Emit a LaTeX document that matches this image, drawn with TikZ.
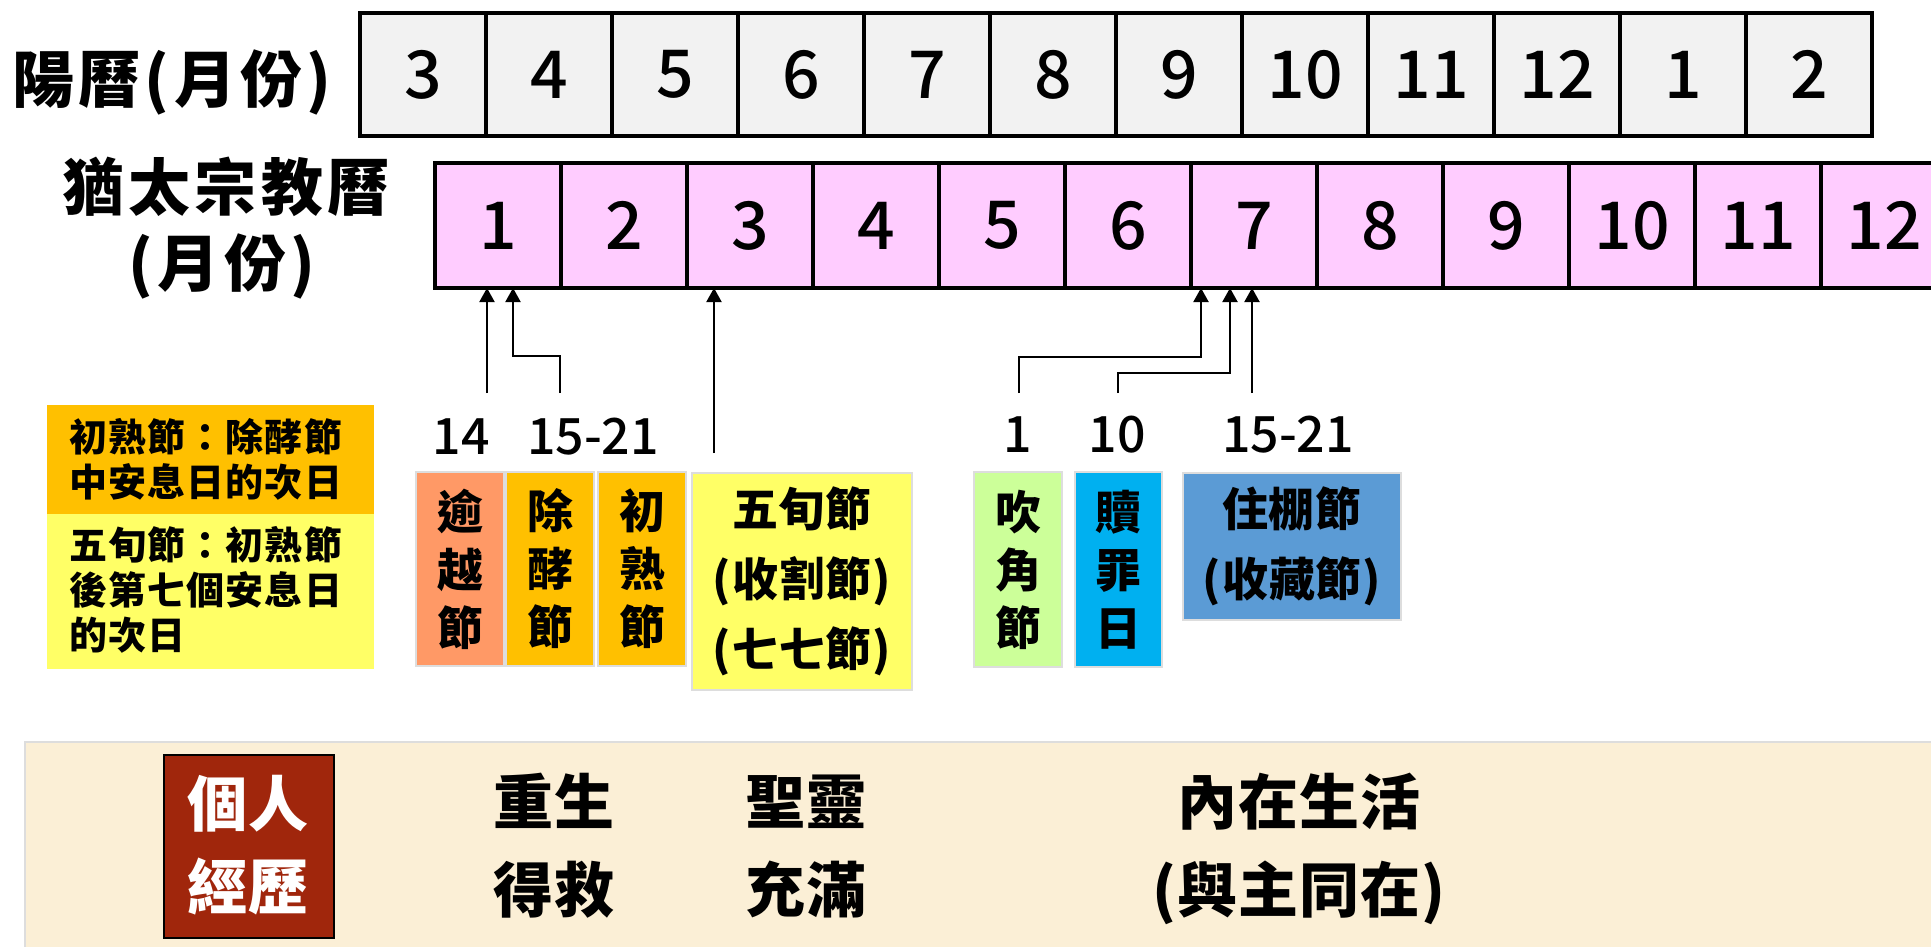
\documentclass[tikz,border=0pt]{standalone}
\usepackage{fontspec}
\setmainfont{Noto Sans CJK TC}
\newfontfamily\digitfont{Noto Sans CJK TC Medium}
\usetikzlibrary{arrows.meta}
\definecolor{solarfill}{HTML}{F2F2F2}
\definecolor{jewfill}{HTML}{FFCCFF}
\definecolor{passc}{HTML}{FF9966}
\definecolor{goldc}{HTML}{FFC000}
\definecolor{yelc}{HTML}{FFFF66}
\definecolor{greenc}{HTML}{CCFF99}
\definecolor{cyanc}{HTML}{00B0F0}
\definecolor{bluec}{HTML}{5B9BD5}
\definecolor{parch}{HTML}{FBEFD6}
\definecolor{redbox}{HTML}{A0260C}
\definecolor{edgegray}{HTML}{DDDDDD}
\tikzset{
  monthcell/.style={draw, line width=4.5pt, minimum width=126pt, inner sep=0pt, outer sep=0pt,
    font=\digitfont\fontsize{66pt}{66pt}\selectfont},
  solar/.style={monthcell, fill=solarfill, minimum height=123pt},
  jewish/.style={monthcell, fill=jewfill, minimum height=125pt},
  rowlabel/.style={font=\bfseries\fontsize{62pt}{62pt}\selectfont\addfontfeatures{LetterSpace=7}, inner sep=0pt, anchor=base},
  legtext/.style={font=\bfseries\fontsize{38pt}{38pt}\selectfont\addfontfeatures{LetterSpace=3}, inner sep=0pt, anchor=base west},
  daylabel/.style={font=\digitfont\fontsize{50pt}{50pt}\selectfont, inner sep=0pt, anchor=base},
  feast/.style={draw=edgegray, line width=2pt, inner sep=0pt, align=center,
    font=\bfseries\fontsize{46pt}{58pt}\selectfont},
  widefeast/.style={feast, font=\bfseries\fontsize{46pt}{70pt}\selectfont\addfontfeatures{LetterSpace=2}},
  conn/.style={line width=2pt, -{Triangle[length=14pt,width=15pt]}},
  bottomtext/.style={font=\bfseries\fontsize{60pt}{60pt}\selectfont\addfontfeatures{LetterSpace=2}, inner sep=0pt, anchor=base},
}
\begin{document}
\begin{tikzpicture}[x=1pt,y=-1pt]
\useasboundingbox (0,0) rectangle (1931,947);
\clip (0,0) rectangle (1931,947);
% solar row
\foreach \m [count=\i from 0] in {3,4,5,6,7,8,9,10,11,12,1,2}
  \node[solar] (s\i) at ({423+126*\i},74.5) {\m};
% jewish row
\foreach \m [count=\i from 1] in {1,2,3,4,5,6,7,8,9,10,11,12}
  \node[jewish] (j\i) at ({372+126*\i},225.5) {\m};
% row labels
\node[rowlabel] (solarlabel) at (172,103) {陽曆(月份)};
\node[rowlabel] (jewlabelA) at (226,211) {猶太宗教曆};
\node[rowlabel] (jewlabelB) at (222,286) {(月份)};
% legend
\node[fill=goldc, minimum width=327pt, minimum height=109pt, inner sep=0pt, anchor=north west] (legA) at (47,405) {};
\node[fill=yelc, minimum width=327pt, minimum height=155pt, inner sep=0pt, anchor=north west] (legB) at (47,514) {};
\node[legtext] (legA1) at (69,451) {初熟節：除酵節};
\node[legtext] (legA2) at (69,496) {中安息日的次日};
\node[legtext] (legB1) at (69,559) {五旬節：初熟節};
\node[legtext] (legB2) at (69,604) {後第七個安息日};
\node[legtext] (legB3) at (69,649) {的次日};
% day labels
\node[daylabel] (d14) at (461,454) {14};
\node[daylabel] (d1521) at (593,454) {15-21};
\node[daylabel] (d1) at (1018,452) {1};
\node[daylabel] (d10) at (1117,452) {10};
\node[daylabel] (d1521b) at (1288,452) {15-21};
% feast boxes
\node[feast, fill=passc, minimum width=88pt, minimum height=194pt] (pass) at (460,569) {逾\\越\\節};
\node[feast, fill=goldc, minimum width=88pt, minimum height=194pt] (unl) at (550,569) {除\\酵\\節};
\node[feast, fill=goldc, minimum width=88pt, minimum height=194pt] (first) at (642,569) {初\\熟\\節};
\node[widefeast, fill=yelc, minimum width=220pt, minimum height=217pt] (pent) at (802,581.5) {五旬節\\(收割節)\\(七七節)};
\node[feast, fill=greenc, minimum width=88pt, minimum height=195pt] (trump) at (1018,569.5) {吹\\角\\節};
\node[feast, fill=cyanc, minimum width=87pt, minimum height=195pt] (atone) at (1118.5,569.5) {贖\\罪\\日};
\node[widefeast, fill=bluec, minimum width=218pt, minimum height=147pt] (tab) at (1292,546.5) {住棚節\\(收藏節)};
% connectors
\coordinate (c14) at (487,393);
\coordinate (c1521) at (560,393);
\coordinate (cpent) at (714,453);
\coordinate (ctrump) at (1019,393);
\coordinate (catone) at (1117.5,393);
\coordinate (ctab) at (1252,393);
\draw[conn] (c14) -- (c14 |- j1.south);
\draw[conn] (c1521) -- (560,356) -- (513,356) -- (513,0 |- j1.south);
\draw[conn] (cpent) -- (cpent |- j3.south);
\draw[conn] (ctrump) -- (1019,357) -- (1201,357) -- (1201,0 |- j7.south);
\draw[conn] (catone) -- (1117.5,373) -- (1230,373) -- (1230,0 |- j7.south);
\draw[conn] (ctab) -- (ctab |- j7.south);
% bottom panel
\fill[parch] (25,742) rectangle (1940,960);
\draw[edgegray, line width=2pt] (25,960) -- (25,742) -- (1940,742);
\node[fill=redbox, draw=black, line width=2pt, minimum width=170pt, minimum height=183pt, inner sep=0pt, anchor=north west] (personal) at (163,754) {};
\node[bottomtext, text=white] (perA) at (248,826) {個人};
\node[bottomtext, text=white] (perB) at (248,909) {經歷};
\node[bottomtext] (btA) at (554,824) {重生};
\node[bottomtext] (btB) at (554,912) {得救};
\node[bottomtext] (btC) at (806,824) {聖靈};
\node[bottomtext] (btD) at (806,912) {充滿};
\node[bottomtext] (btE) at (1299,824) {內在生活};
\node[bottomtext] (btF) at (1299,912) {(與主同在)};
\end{tikzpicture}
\end{document}
